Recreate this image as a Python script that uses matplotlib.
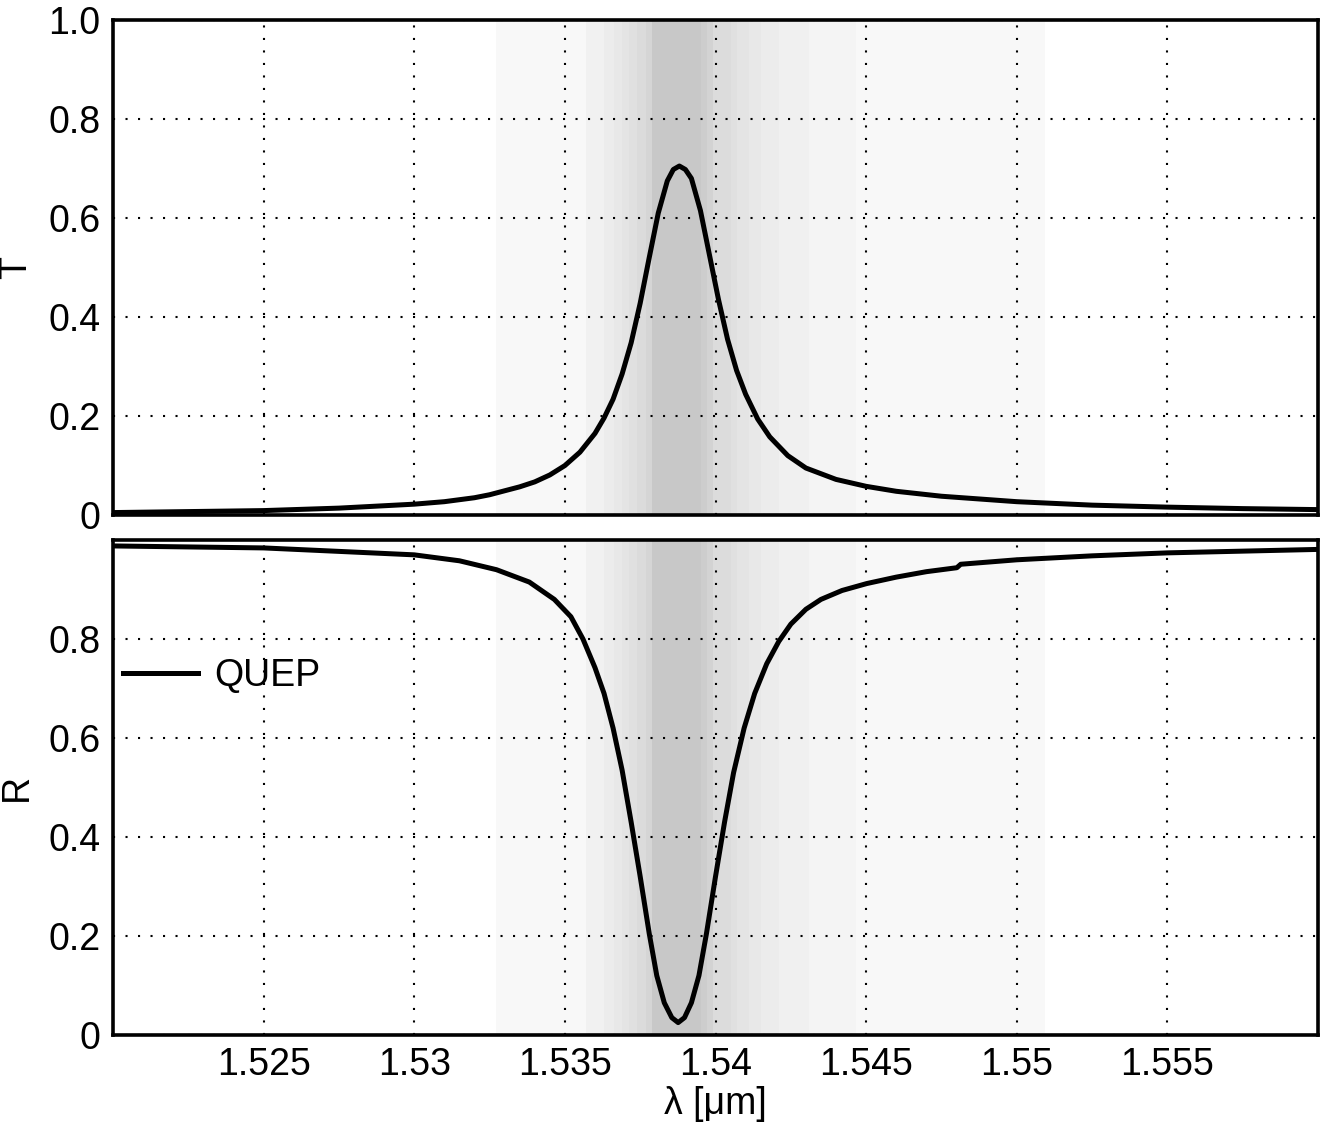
import matplotlib
matplotlib.use("Agg")
import matplotlib.pyplot as plt

# wavelength grid and transmission
wl_t = [1.5200, 1.5225, 1.5250, 1.5275, 1.5300, 1.5310, 1.5320, 1.5325, 1.5330,
        1.5335, 1.5340, 1.5345, 1.5350, 1.5355, 1.5360, 1.5363, 1.5366, 1.5369,
        1.5372, 1.5375, 1.5378, 1.5381, 1.5384, 1.5386, 1.5388, 1.5390, 1.5392,
        1.5395, 1.5398, 1.5401, 1.5404, 1.5407, 1.5410, 1.5414, 1.5418, 1.5424,
        1.5430, 1.5440, 1.5450, 1.5460, 1.5475, 1.5500, 1.5525, 1.5550, 1.5575,
        1.5600]
trans = [0.005, 0.007, 0.009, 0.014, 0.022, 0.027, 0.035, 0.041, 0.049,
         0.057, 0.067, 0.081, 0.100, 0.127, 0.165, 0.196, 0.234, 0.285,
         0.348, 0.428, 0.520, 0.610, 0.675, 0.698, 0.705, 0.698, 0.680,
         0.615, 0.525, 0.435, 0.355, 0.292, 0.244, 0.194, 0.158, 0.120,
         0.095, 0.072, 0.058, 0.048, 0.038, 0.027, 0.020, 0.016, 0.013,
         0.011]

# reflection
wl_r = [1.52000, 1.52500, 1.53000, 1.53150, 1.53273, 1.53382, 1.53465, 1.53520,
        1.53560, 1.53600, 1.53630, 1.53660, 1.53690, 1.53720, 1.53750, 1.53780,
        1.53805, 1.53830, 1.53855, 1.53876, 1.53897, 1.53920, 1.53945, 1.53970,
        1.54000, 1.54030, 1.54060, 1.54095, 1.54130, 1.54170, 1.54210, 1.54250,
        1.54300, 1.54350, 1.54420, 1.54502, 1.54600, 1.54700, 1.54801, 1.54814,
        1.55000, 1.55250, 1.55500, 1.56000]
refl = [0.988, 0.984, 0.970, 0.958, 0.940, 0.915, 0.880, 0.845,
        0.800, 0.742, 0.690, 0.620, 0.535, 0.430, 0.320, 0.205,
        0.120, 0.065, 0.035, 0.025, 0.035, 0.065, 0.120, 0.205,
        0.320, 0.430, 0.530, 0.620, 0.690, 0.750, 0.795, 0.830,
        0.860, 0.880, 0.898, 0.912, 0.925, 0.936, 0.944, 0.951,
        0.960, 0.968, 0.974, 0.981]

# gray background bands: edges in um and gray level of each band (0-255)
band_edges = [1.53273, 1.53571, 1.53631, 1.53664, 1.53690, 1.53714, 1.53740,
              1.53770, 1.53790, 1.53952, 1.53972, 1.53992, 1.54052, 1.54072,
              1.54111, 1.54151, 1.54211, 1.54310, 1.54466, 1.55093]
band_gray = [248, 241, 236, 232, 228, 224, 219, 213, 200, 205, 211, 220,
             224, 228, 232, 236, 240, 244, 248]

x_ticks = [1.525, 1.53, 1.535, 1.54, 1.545, 1.55, 1.555]
x_labels = ["1.525", "1.53", "1.535", "1.54", "1.545", "1.55", "1.555"]
t_ticks = [0, 0.2, 0.4, 0.6, 0.8, 1.0]
t_labels = ["0", "0.2", "0.4", "0.6", "0.8", "1.0"]
r_ticks = [0, 0.2, 0.4, 0.6, 0.8]
r_labels = ["0", "0.2", "0.4", "0.6", "0.8"]

plt.rcParams["font.family"] = ["Liberation Sans", "DejaVu Sans"]
plt.rcParams["font.size"] = 27

fig = plt.figure(figsize=(13.26, 11.29), dpi=100)
ax_t = fig.add_axes([0.0852, 0.5438, 0.9088, 0.4385])
ax_r = fig.add_axes([0.0852, 0.0833, 0.9088, 0.4384])


def style(ax):
    ax.set_xlim(1.52, 1.56)
    ax.set_ylim(0, 1)
    for g0, g1, g in zip(band_edges[:-1], band_edges[1:], band_gray):
        c = (g / 255, g / 255, g / 255)
        ax.axvspan(g0, g1, color=c, lw=0, zorder=0)
    ax.set_xticks(x_ticks)
    ax.grid(True, color="black", linestyle=(0, (1, 5)), linewidth=1.5, zorder=1)
    ax.set_axisbelow(False)
    ax.tick_params(length=0, pad=9, labelsize=27)
    for s in ax.spines.values():
        s.set_linewidth(2.6)
        s.set_zorder(5)


style(ax_t)
ax_t.plot(wl_t, trans, color="black", lw=3.6, zorder=3, solid_joinstyle="round")
ax_t.set_xticklabels([])
ax_t.set_yticks(t_ticks)
ax_t.set_yticklabels(t_labels)
ax_t.set_ylabel("T", labelpad=10)

style(ax_r)
ax_r.plot(wl_r, refl, color="black", lw=3.6, zorder=3, label="QUEP",
          solid_joinstyle="round")
ax_r.set_xticklabels(x_labels)
ax_r.set_yticks(r_ticks)
ax_r.set_yticklabels(r_labels)
ax_r.set_ylabel("R", labelpad=10)
ax_r.set_xlabel("λ [μm]", labelpad=2)
ax_r.legend(loc="center left", bbox_to_anchor=(0.008, 0.725), frameon=False,
            handlelength=2.0, handletextpad=0.45, borderpad=0, borderaxespad=0)

fig.savefig("out.png", dpi=100)
